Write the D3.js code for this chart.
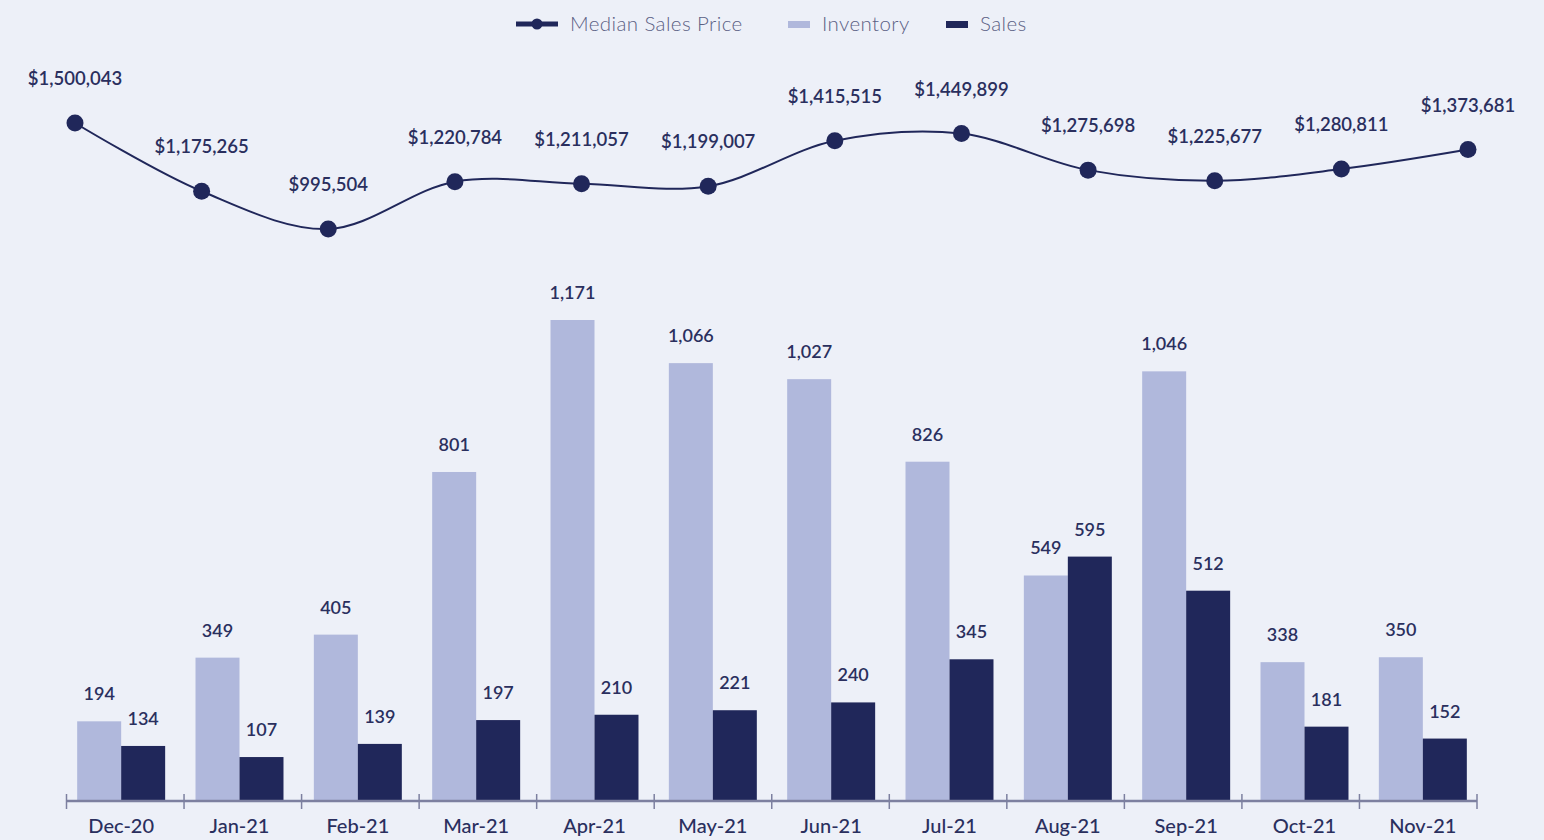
<!DOCTYPE html>
<html><head><meta charset="utf-8">
<script src="https://cdn.jsdelivr.net/npm/d3@7"></script>
<style>
html,body{margin:0;padding:0;background:#edf0f8;}
svg{display:block;font-family:Lato, "Open Sans", sans-serif;}
</style></head>
<body><svg id="c" width="1544" height="840"></svg>
<script>
const categories = ["Dec-20","Jan-21","Feb-21","Mar-21","Apr-21","May-21","Jun-21","Jul-21","Aug-21","Sep-21","Oct-21","Nov-21"];
const inventory = [194,349,405,801,1171,1066,1027,826,549,1046,338,350];
const sales = [134,107,139,197,210,221,240,345,595,512,181,152];
const medianPrice = [1500043,1175265,995504,1220784,1211057,1199007,1415515,1449899,1275698,1225677,1280811,1373681];
const legendItems = ["Median Sales Price","Inventory","Sales"];

const W = 1544, H = 840;
const colInv = "#b0b8dc", colSales = "#20275a", textCol = "#2a2f5e", axisCol = "#7d80a0";
const svg = d3.select("#c");
svg.append("rect").attr("width",W).attr("height",H).attr("fill","#edf0f8");

// Bars
const x = d3.scaleBand().domain(categories).range([62,1482]);
const inner = d3.scaleBand().domain(["inv","sales"]).range([0, x.bandwidth()]).paddingInner(0).paddingOuter(0.345);
const y = d3.scaleLinear().domain([0,1171]).range([801,320]);
const fmt = d3.format(",");

const g = svg.append("g");
categories.forEach((c,i)=>{
  const vals = [["inv",inventory[i],colInv],["sales",sales[i],colSales]];
  vals.forEach(([k,v,col])=>{
    g.append("rect").attr("x",x(c)+inner(k)).attr("y",y(v)).attr("width",inner.bandwidth()).attr("height",y(0)-y(v)).attr("fill",col);
    g.append("text").attr("x",x(c)+inner(k)+inner.bandwidth()/2).attr("y",y(v)-21)
      .attr("text-anchor","middle").attr("font-size",18).attr("font-weight",600).attr("fill",textCol)
      .text(fmt(v));
  });
});

// Axis
const xb = d3.scaleBand().domain(categories).range([66.5,1477]);
const axis = svg.append("g").attr("transform","translate(0,801)")
  .call(d3.axisBottom(x).tickSize(0).tickPadding(18));
axis.select(".domain").remove();
axis.append("line").attr("x1",xb.range()[0]).attr("x2",xb.range()[1]).attr("stroke",axisCol).attr("stroke-width",2.5);
axis.selectAll(".tick text").attr("font-size",20).attr("font-family","Lato, sans-serif").attr("font-weight",500).attr("fill",textCol);
const bounds = categories.map(c=>xb(c)).concat([xb.range()[1]]);
axis.selectAll(".bound").data(bounds).join("line").attr("class","bound")
  .attr("x1",d=>d).attr("x2",d=>d).attr("y1",-7).attr("y2",8).attr("stroke",axisCol).attr("stroke-width",1.5);

// Line
const xp = d3.scalePoint().domain(categories).range([75,1468]);
const yp = d3.scaleLinear().domain([995504,1500043]).range([229,123]);
const line = d3.line().x((d,i)=>xp(categories[i])).y(d=>yp(d)).curve(d3.curveCatmullRom.alpha(0.5));
svg.append("path").datum(medianPrice).attr("d",line).attr("fill","none").attr("stroke",colSales).attr("stroke-width",2);
svg.selectAll(".pt").data(medianPrice).join("circle").attr("class","pt")
  .attr("cx",(d,i)=>xp(categories[i])).attr("cy",d=>yp(d)).attr("r",8.5).attr("fill",colSales);
svg.selectAll(".pl").data(medianPrice).join("text").attr("class","pl")
  .attr("x",(d,i)=>xp(categories[i])).attr("y",d=>yp(d)-38)
  .attr("text-anchor","middle").attr("font-size",18.5).attr("font-weight",600).attr("fill",textCol)
  .text(d=>"$"+fmt(d));

// Legend
const lg = svg.append("g").attr("font-size",20.5).attr("font-weight",300).attr("fill","#5b6084").attr("letter-spacing",0.4);
lg.append("line").attr("x1",516).attr("x2",558).attr("y1",24).attr("y2",24).attr("stroke",colSales).attr("stroke-width",5);
lg.append("circle").attr("cx",537).attr("cy",24).attr("r",5.5).attr("fill",colSales);
lg.append("text").attr("x",570).attr("y",31).text(legendItems[0]);
lg.append("rect").attr("x",788).attr("y",21).attr("width",22).attr("height",7).attr("fill",colInv);
lg.append("text").attr("x",822).attr("y",31).text(legendItems[1]);
lg.append("rect").attr("x",946).attr("y",21).attr("width",22).attr("height",7).attr("fill",colSales);
lg.append("text").attr("x",980).attr("y",31).text(legendItems[2]);
</script></body></html>
